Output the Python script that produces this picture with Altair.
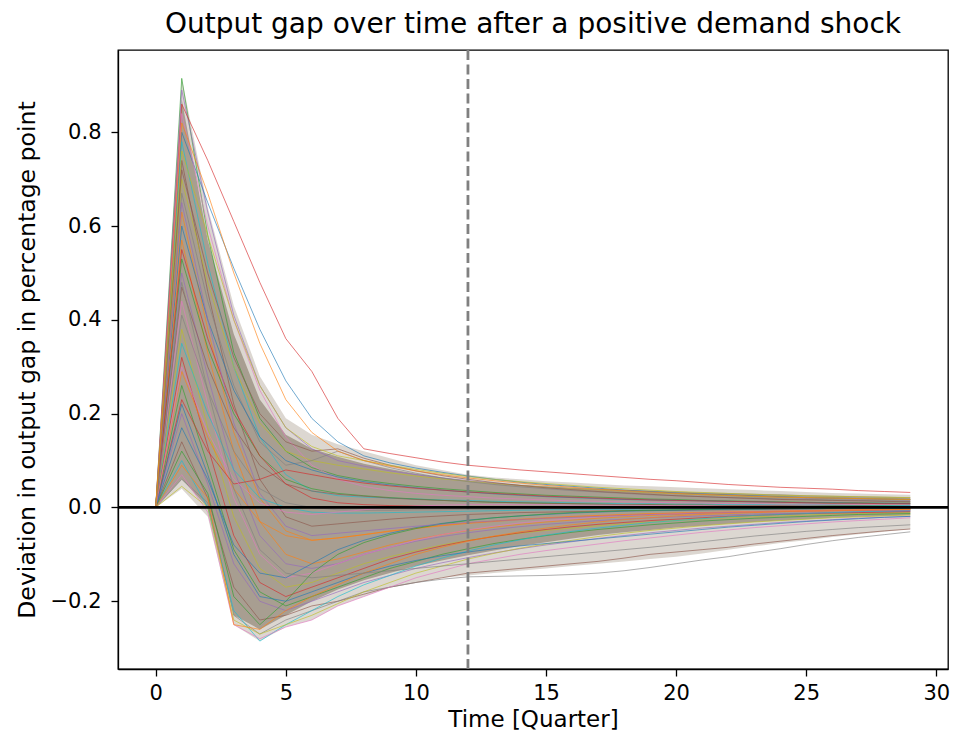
import altair as alt
import pandas as pd

# ---------------- data ----------------
quarters = list(range(30))

run_01 = [0, .915, .58, .33, .19, .12, .085, .068, .058, .051, .045, .040, .036, .032, .029, .026, .024, .022, .020, .018, .017, .015, .014, .013, .012, .011, .010, .010, .009, .009]
run_02 = [0, .89, .63, .41, .26, .17, .125, .10, .088, .078, .070, .063, .057, .052, .047, .043, .040, .037, .034, .031, .029, .027, .025, .023, .022, .020, .019, .018, .017, .016]
run_03 = [0, .86, .74, .61, .48, .36, .29, .19, .125, .115, .106, .097, .090, .085, .080, .076, .072, .068, .064, .060, .057, .053, .049, .046, .043, .041, .039, .036, .034, .032]
run_04 = [0, .80, .65, .51, .38, .27, .19, .14, .11, .095, .084, .075, .067, .060, .054, .049, .045, .041, .037, .034, .031, .029, .027, .025, .023, .021, .020, .019, .018, .017]
run_05 = [0, .84, .60, .40, .25, .15, .09, .06, .045, .036, .030, .026, .023, .020, .018, .016, .014, .013, .012, .011, .010, .009, .008, .008, .007, .007, .006, .006, .006, .005]
run_06 = [0, .78, .52, .30, .15, .07, .035, .025, .022, .020, .018, .016, .015, .013, .012, .011, .010, .009, .008, .008, .007, .007, .006, .006, .005, .005, .005, .004, .004, .004]
run_07 = [0, .74, .46, .22, .06, -.02, -.04, -.035, -.03, -.025, -.021, -.018, -.015, -.013, -.011, -.010, -.009, -.008, -.007, -.006, -.006, -.005, -.005, -.004, -.004, -.003, -.003, -.003, -.003, -.002]
run_08 = [0, .70, .48, .30, .18, .12, .10, .09, .082, .074, .067, .061, .056, .051, .047, .043, .040, .037, .034, .031, .029, .027, .025, .023, .022, .021, .020, .019, .018, .017]
run_09 = [0, .67, .44, .26, .14, .09, .10, .12, .10, .085, .073, .063, .055, .049, .044, .040, .036, .033, .030, .027, .025, .023, .021, .020, .018, .017, .016, .015, .014, .013]
run_10 = [0, .63, .38, .16, .02, -.05, -.07, -.065, -.058, -.05, -.044, -.038, -.033, -.029, -.025, -.022, -.019, -.017, -.015, -.013, -.012, -.011, -.010, -.009, -.008, -.007, -.006, -.006, -.005, -.005]
run_11 = [0, .60, .40, .25, .15, .10, .08, .065, .055, .048, .042, .037, .033, .029, .026, .023, .021, .019, .017, .016, .015, .014, .013, .012, .011, .010, .010, .009, .009, .008]
run_12 = [0, .57, .33, .12, -.03, -.10, -.12, -.11, -.095, -.08, -.068, -.058, -.049, -.042, -.036, -.031, -.027, -.023, -.020, -.017, -.015, -.013, -.011, -.010, -.009, -.008, -.007, -.006, -.006, -.005]
run_13 = [0, .53, .34, .20, .11, .06, .04, .03, .025, .021, .018, .015, .013, .011, .010, .009, .008, .007, .006, .006, .005, .005, .004, .004, .004, .003, .003, .003, .003, .002]
run_14 = [0, .50, .28, .08, -.06, -.12, -.13, -.12, -.10, -.085, -.072, -.062, -.054, -.047, -.041, -.036, -.032, -.028, -.025, -.022, -.020, -.018, -.016, -.014, -.013, -.012, -.011, -.010, -.009, -.008]
run_15 = [0, .47, .30, .17, .09, .05, .035, .028, .024, .02, .017, .015, .013, .011, .01, .009, .008, .007, .006, .006, .005, .005, .004, .004, .004, .003, .003, .003, .002, .002]
run_16 = [0, .44, .22, .02, -.10, -.15, -.14, -.12, -.10, -.085, -.07, -.058, -.048, -.040, -.033, -.028, -.024, -.020, -.017, -.015, -.013, -.011, -.010, -.009, -.008, -.007, -.006, -.005, -.005, -.004]
run_17 = [0, .41, .25, .12, .04, .01, .0, -.005, -.006, -.006, -.005, -.005, -.004, -.004, -.003, -.003, -.003, -.002, -.002, -.002, -.002, -.001, -.001, -.001, -.001, -.001, -.001, -.001, .0, .0]
run_18 = [0, .38, .17, -.02, -.13, -.17, -.16, -.14, -.12, -.105, -.092, -.08, -.07, -.062, -.055, -.049, -.044, -.039, -.035, -.031, -.028, -.025, -.022, -.020, -.018, -.016, -.014, -.013, -.012, -.011]
run_19 = [0, .35, .20, .08, .02, .0, -.01, -.012, -.012, -.011, -.010, -.009, -.008, -.007, -.006, -.005, -.005, -.004, -.004, -.003, -.003, -.003, -.002, -.002, -.002, -.002, -.001, -.001, -.001, -.001]
run_20 = [0, .32, .13, -.06, -.16, -.19, -.17, -.15, -.13, -.11, -.095, -.082, -.071, -.062, -.054, -.047, -.041, -.036, -.032, -.028, -.025, -.022, -.019, -.017, -.015, -.013, -.012, -.011, -.010, -.009]
run_21 = [0, .29, .15, .04, -.03, -.06, -.07, -.065, -.058, -.051, -.045, -.039, -.034, -.030, -.026, -.023, -.020, -.018, -.016, -.014, -.012, -.011, -.010, -.009, -.008, -.007, -.006, -.005, -.005, -.004]
run_22 = [0, .26, .09, -.09, -.18, -.21, -.19, -.17, -.15, -.13, -.115, -.10, -.088, -.077, -.068, -.06, -.053, -.047, -.042, -.037, -.033, -.029, -.026, -.023, -.021, -.019, -.017, -.015, -.014, -.013]
run_23 = [0, .23, .12, .05, .06, .08, .07, .06, .052, .046, .041, .037, .033, .030, .027, .024, .022, .020, .018, .016, .015, .014, .013, .012, .011, .010, .009, .009, .008, .008]
run_24 = [0, .20, .05, -.12, -.20, -.22, -.20, -.18, -.16, -.145, -.13, -.118, -.107, -.097, -.088, -.080, -.073, -.066, -.060, -.054, -.049, -.044, -.040, -.036, -.032, -.029, -.026, -.023, -.021, -.019]
run_25 = [0, .17, .06, -.08, -.14, -.15, -.12, -.09, -.07, -.055, -.043, -.034, -.027, -.022, -.018, -.015, -.012, -.010, -.008, -.007, -.006, -.005, -.004, -.004, -.003, -.003, -.002, -.002, -.002, -.002]
run_26 = [0, .14, .02, -.17, -.24, -.23, -.21, -.20, -.185, -.17, -.16, -.15, -.14, -.135, -.13, -.125, -.12, -.115, -.108, -.10, -.095, -.09, -.085, -.078, -.072, -.066, -.06, -.055, -.05, -.046]
run_27 = [0, .06, .01, -.23, -.27, -.24, -.22, -.20, -.18, -.17, -.16, -.153, -.148, -.147, -.146, -.145, -.143, -.140, -.135, -.128, -.120, -.112, -.105, -.096, -.088, -.079, -.071, -.064, -.058, -.052]
run_28 = [0, .10, .0, -.22, -.285, -.25, -.22, -.19, -.165, -.145, -.125, -.108, -.093, -.080, -.069, -.059, -.051, -.044, -.038, -.032, -.028, -.024, -.020, -.017, -.015, -.013, -.011, -.009, -.008, -.007]
run_29 = [0, .07, -.01, -.25, -.28, -.255, -.24, -.21, -.19, -.17, -.15, -.135, -.12, -.11, -.10, -.092, -.085, -.078, -.071, -.065, -.059, -.053, -.048, -.043, -.039, -.035, -.031, -.028, -.025, -.022]
run_30 = [0, .045, .0, -.24, -.27, -.25, -.23, -.205, -.18, -.16, -.14, -.125, -.11, -.098, -.087, -.078, -.07, -.062, -.055, -.049, -.044, -.039, -.035, -.031, -.028, -.025, -.022, -.020, -.018, -.016]
run_31 = [0, .12, .03, -.19, -.25, -.20, -.14, -.10, -.075, -.058, -.045, -.035, -.028, -.022, -.018, -.014, -.011, -.009, -.007, -.006, -.005, -.004, -.003, -.003, -.002, -.002, -.002, -.001, -.001, -.001]
run_32 = [0, .55, .36, .21, .11, .05, .02, .01, .006, .004, .003, .002, .002, .001, .001, .001, .001, .0, .0, .0, .0, .0, .0, .0, .0, .0, .0, .0, .0, .0]
run_33 = [0, .65, .40, .18, .03, -.04, -.06, -.055, -.05, -.045, -.04, -.036, -.032, -.029, -.026, -.023, -.021, -.019, -.017, -.015, -.014, -.012, -.011, -.010, -.009, -.008, -.007, -.007, -.006, -.006]
run_34 = [0, .72, .50, .32, .20, .14, .12, .125, .105, .09, .078, .068, .06, .053, .047, .042, .038, .034, .031, .028, .025, .023, .021, .019, .017, .016, .015, .014, .013, .012]
run_35 = [0, .22, .07, -.10, -.19, -.20, -.18, -.16, -.14, -.125, -.113, -.103, -.095, -.088, -.082, -.077, -.072, -.067, -.062, -.057, -.052, -.047, -.042, -.038, -.034, -.030, -.027, -.024, -.021, -.019]
run_36 = [0, .09, .02, -.25, -.26, -.22, -.19, -.165, -.14, -.12, -.10, -.085, -.072, -.061, -.052, -.044, -.037, -.031, -.026, -.022, -.018, -.015, -.013, -.011, -.009, -.008, -.007, -.006, -.005, -.004]
run_37 = [0, .30, .16, .06, .01, -.01, -.015, -.01, -.005, .0, .003, .005, .006, .006, .006, .006, .005, .005, .005, .004, .004, .004, .003, .003, .003, .003, .002, .002, .002, .002]
run_38 = [0, .48, .25, .04, -.09, -.14, -.15, -.145, -.14, -.135, -.13, -.125, -.12, -.115, -.11, -.105, -.10, -.095, -.09, -.085, -.079, -.073, -.067, -.061, -.056, -.051, -.047, -.043, -.040, -.037]
run_39 = [0, .76, .58, .40, .26, .17, .13, .11, .10, .09, .081, .073, .066, .060, .055, .051, .047, .043, .040, .037, .034, .032, .030, .028, .026, .025, .024, .023, .022, .021]
run_40 = [0, .82, .67, .50, .35, .23, .16, .12, .10, .088, .078, .07, .063, .057, .052, .047, .043, .039, .036, .033, .030, .028, .026, .024, .022, .021, .020, .019, .018, .017]

runs = [run_01, run_02, run_03, run_04, run_05, run_06, run_07, run_08, run_09, run_10,
        run_11, run_12, run_13, run_14, run_15, run_16, run_17, run_18, run_19, run_20,
        run_21, run_22, run_23, run_24, run_25, run_26, run_27, run_28, run_29, run_30,
        run_31, run_32, run_33, run_34, run_35, run_36, run_37, run_38, run_39, run_40]

# tab10 colour index of each run (matplotlib colour cycle)
run_color_idx = [2, 4, 3, 0, 6, 9, 5, 8, 7, 1,
                 0, 1, 2, 4, 5, 6, 7, 8, 9, 3,
                 1, 2, 3, 4, 0, 5, 7, 9, 6, 8,
                 2, 3, 4, 5, 0, 1, 6, 7, 8, 1]

# envelope of the dense bundle of simulated paths
band_outer_hi = [0, .915, .64, .43, .28, .19, .155, .135, .12, .105, .09, .08, .07, .064, .06, .056, .053, .05, .047, .045, .043, .041, .039, .037, .035, .033, .031, .03, .028, .027]
band_outer_lo = [0, .04, -.02, -.25, -.285, -.255, -.24, -.21, -.19, -.17, -.16, -.15, -.145, -.14, -.135, -.13, -.125, -.12, -.115, -.11, -.105, -.098, -.09, -.083, -.076, -.07, -.063, -.057, -.052, -.046]
band_inner_hi = [0, .87, .57, .37, .23, .155, .125, .108, .093, .082, .072, .064, .057, .052, .048, .045, .042, .04, .038, .036, .034, .032, .031, .029, .028, .026, .025, .024, .023, .022]
band_inner_lo = [0, .06, .0, -.23, -.26, -.23, -.2, -.175, -.155, -.14, -.125, -.113, -.102, -.092, -.082, -.074, -.066, -.059, -.053, -.048, -.043, -.039, -.035, -.031, -.028, -.025, -.022, -.02, -.018, -.016]

tab10 = ["#1f77b4", "#ff7f0e", "#2ca02c", "#d62728", "#9467bd",
         "#8c564b", "#e377c2", "#7f7f7f", "#bcbd22", "#17becf"]

shock_quarter = 12
y_ticks = [-0.2, 0.0, 0.2, 0.4, 0.6, 0.8]
x_ticks = [0, 5, 10, 15, 20, 25, 30]

# ---------------- tables ----------------
rows = []
for i, r in enumerate(runs):
    for t, v in zip(quarters, r):
        rows.append({"t": t, "v": v, "run": f"r{i:02d}", "col": tab10[run_color_idx[i]]})
lines_df = pd.DataFrame(rows)

band_df = pd.DataFrame({"t": quarters, "ohi": band_outer_hi, "olo": band_outer_lo,
                        "ihi": band_inner_hi, "ilo": band_inner_lo})

FONT = "DejaVu Sans"
xscale = alt.Scale(domain=[-1.45, 30.45], nice=False, zero=False)
yscale = alt.Scale(domain=[-0.3445, 0.9755], nice=False, zero=False)

xaxis = alt.Axis(values=x_ticks, title="Time [Quarter]", grid=False,
                 labelFont=FONT, labelFontSize=21, labelColor="black",
                 titleFont=FONT, titleFontSize=23, titleFontWeight="normal", titleColor="black",
                 tickColor="black", tickSize=7, tickWidth=1.3,
                 domainColor="black", domainWidth=1.3, labelPadding=6, titlePadding=5)
yaxis = alt.Axis(values=y_ticks, title="Deviation in output gap in percentage point", grid=False,
                 labelExpr="replace(format(datum.value, '.1f'), '-', '\u2212')",
                 labelFont=FONT, labelFontSize=21, labelColor="black",
                 titleFont=FONT, titleFontSize=23.6, titleFontWeight="normal", titleColor="black",
                 tickColor="black", tickSize=7, tickWidth=1.3,
                 domainColor="black", domainWidth=1.3, labelPadding=10, titlePadding=11)

base_band = alt.Chart(band_df)
outer = base_band.mark_area(color="#9a8c7c", opacity=0.35).encode(
    x=alt.X("t:Q", scale=xscale, axis=xaxis),
    y=alt.Y("olo:Q", scale=yscale, axis=yaxis),
    y2="ohi:Q",
)
inner = base_band.mark_area(color="#857866", opacity=0.6).encode(
    x=alt.X("t:Q", scale=xscale), y=alt.Y("ilo:Q", scale=yscale), y2="ihi:Q",
)

lines = alt.Chart(lines_df).mark_line(strokeWidth=0.9, opacity=0.7).encode(
    x=alt.X("t:Q", scale=xscale),
    y=alt.Y("v:Q", scale=yscale),
    detail="run:N",
    color=alt.Color("col:N", scale=None),
    order=alt.Order("t:Q"),
)

zero_line = alt.Chart(pd.DataFrame({"y": [0.0]})).mark_rule(color="black", strokeWidth=2.8).encode(
    y=alt.Y("y:Q", scale=yscale))
shock_line = alt.Chart(pd.DataFrame({"x": [shock_quarter]})).mark_rule(
    color="#808080", strokeWidth=2.8, strokeDash=[10, 4.5]).encode(x=alt.X("x:Q", scale=xscale))

chart = alt.layer(outer, inner, lines, shock_line, zero_line).properties(
    width=830, height=619,
    background="white",
    title=alt.TitleParams("Output gap over time after a positive demand shock",
                          font=FONT, fontSize=28, fontWeight="normal", color="black",
                          anchor="middle", offset=10),
    autosize=alt.AutoSizeParams(type="none"),
    padding={"left": 118, "top": 50, "right": 5, "bottom": 71},
).configure_view(stroke="black", strokeWidth=1.3)

chart.save("out.html", embed_options={"renderer": "svg", "actions": False})
